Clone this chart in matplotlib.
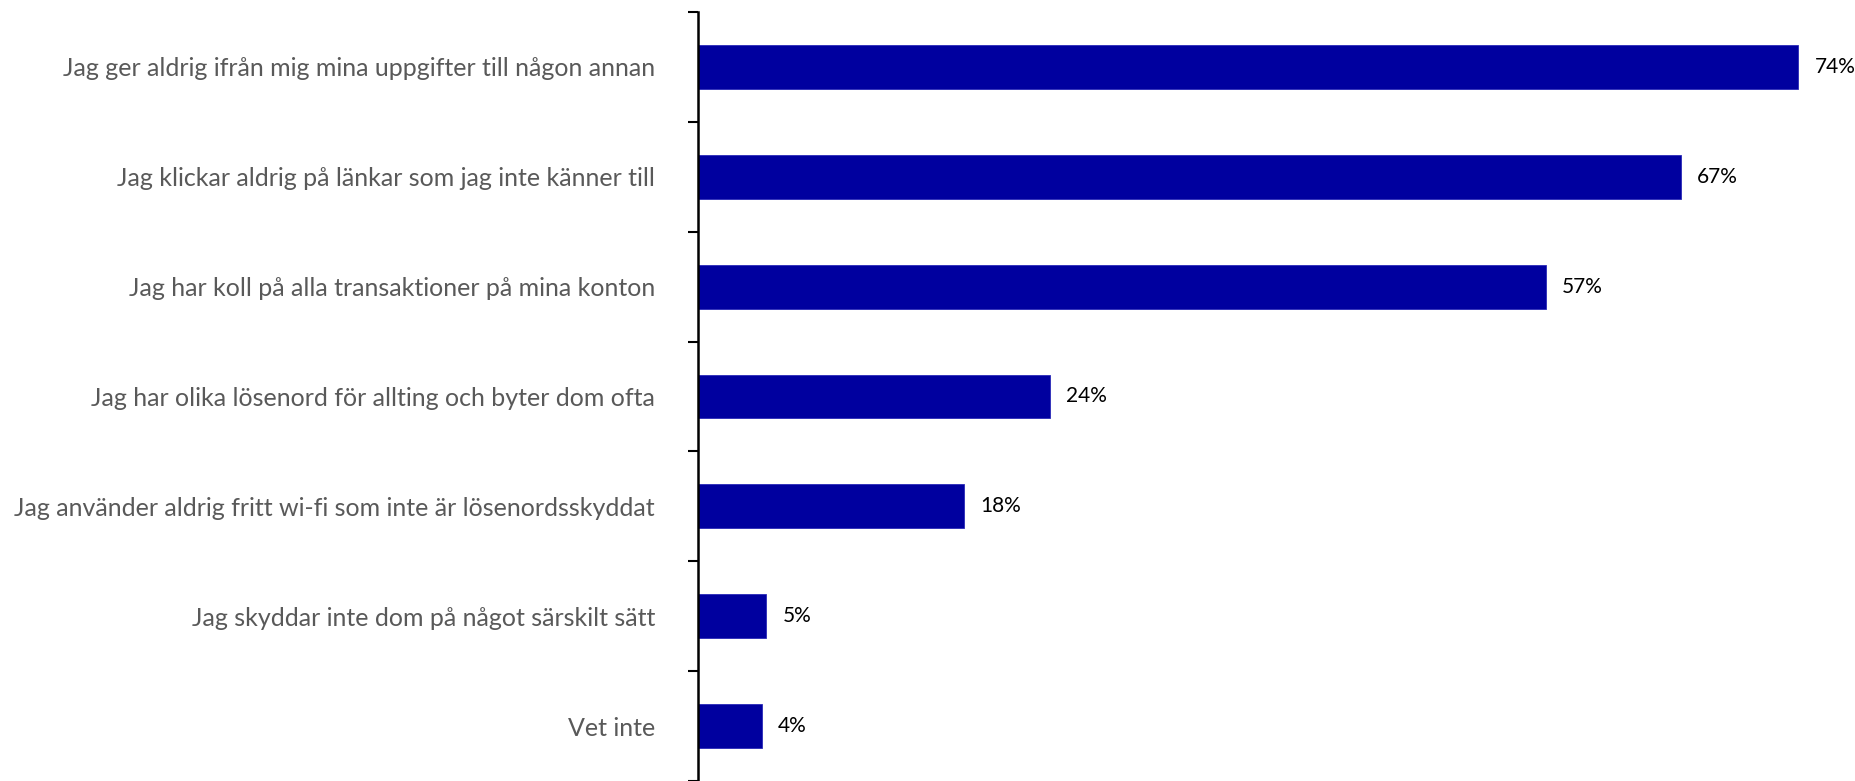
import matplotlib
matplotlib.use("Agg")
import matplotlib.pyplot as plt
import numpy as np

categories = [
    "Jag ger aldrig ifrån mig mina uppgifter till någon annan",
    "Jag klickar aldrig på länkar som jag inte känner till",
    "Jag har koll på alla transaktioner på mina konton",
    "Jag har olika lösenord för allting och byter dom ofta",
    "Jag använder aldrig fritt wi-fi som inte är lösenordsskyddat",
    "Jag skyddar inte dom på något särskilt sätt",
    "Vet inte",
]
# bar lengths (percent)
values = [74.0, 66.1, 57.0, 23.7, 17.9, 4.6, 4.3]
value_labels = ["74%", "67%", "57%", "24%", "18%", "5%", "4%"]

plt.rcParams['font.family'] = ['Lato', 'DejaVu Sans']

fig = plt.figure(figsize=(18.56, 7.81), dpi=100)
ax = fig.add_axes([698/1856, 0.0, 1 - 698/1856, 1 - 12/781])

y = np.arange(len(categories))
ax.barh(y, values, height=0.4, color="#00009F", edgecolor="#2a2ab8", linewidth=0.6)
ax.set_xlim(0, 1158/14.87)
ax.set_ylim(len(categories) - 0.5, -0.5)

for yi, v, lab in zip(y, values, value_labels):
    ax.annotate(lab, (v, yi), xytext=(16, 0), textcoords="offset pixels",
                ha="left", va="center", fontsize=15, color="black")

ax.set_yticks(y)
ax.set_yticklabels(categories, fontsize=18, color="#595959")
ax.tick_params(axis="y", which="major", length=0, pad=31)
ax.set_yticks(np.arange(-0.5, len(categories), 1.0), minor=True)
ax.tick_params(axis="y", which="minor", length=7, width=1.5, color="black")
ax.set_xticks([])
for s in ["top", "right", "bottom"]:
    ax.spines[s].set_visible(False)
ax.spines["left"].set_linewidth(1.8)
ax.spines["left"].set_color("black")

fig.savefig("out.png", dpi=100)
